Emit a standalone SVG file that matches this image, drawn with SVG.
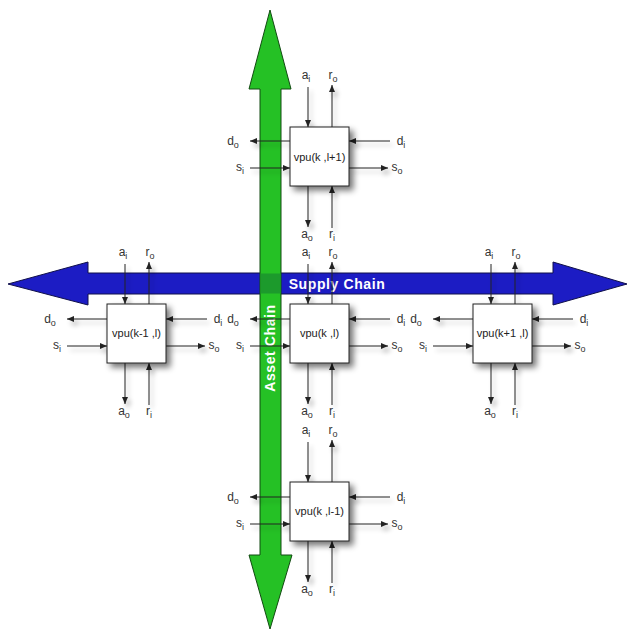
<svg xmlns="http://www.w3.org/2000/svg" width="628" height="631" viewBox="0 0 628 631">
<defs>
<style>
.box{fill:#ffffff;stroke:#222;stroke-width:1;}
.vl{font-family:"Liberation Sans",Arial,sans-serif;font-size:11px;fill:#222;text-anchor:middle;dominant-baseline:central;}
.lb{font-family:"Liberation Sans",Arial,sans-serif;font-size:12px;fill:#333;text-anchor:middle;}
.sub{font-size:9px;}
.cn{stroke:#222;stroke-width:1;fill:none;marker-end:url(#ah);}
.big{font-family:"Liberation Sans",Arial,sans-serif;font-size:14px;font-weight:bold;fill:#ffffff;letter-spacing:0.6px;text-anchor:middle;}
</style>
<marker id="ah" markerUnits="userSpaceOnUse" markerWidth="8" markerHeight="8" refX="7" refY="4" orient="auto">
<path d="M0,1 L7,4 L0,7 Z" fill="#222"/>
</marker>
<filter id="sh" x="-30%" y="-30%" width="170%" height="170%">
<feGaussianBlur in="SourceAlpha" stdDeviation="3"/>
<feOffset dx="4" dy="4" result="b"/>
<feComponentTransfer><feFuncA type="linear" slope="0.55"/></feComponentTransfer>
<feMerge><feMergeNode/><feMergeNode in="SourceGraphic"/></feMerge>
</filter>
<filter id="sh2" x="-10%" y="-10%" width="120%" height="120%">
<feGaussianBlur in="SourceAlpha" stdDeviation="2.5"/>
<feOffset dx="3" dy="4" result="b"/>
<feComponentTransfer><feFuncA type="linear" slope="0.3"/></feComponentTransfer>
<feMerge><feMergeNode/><feMergeNode in="SourceGraphic"/></feMerge>
</filter>
</defs>
<rect width="628" height="631" fill="#ffffff"/>

<g id="supply-chain">
<polygon points="8,284 88,262 88,273 553,273 553,262 627,284 553,305 553,294 88,294 88,305" fill="#1c1cc4" stroke="#10104a" stroke-width="1"/>
<text class="big" x="337" y="289">Supply Chain</text>
</g>
<g id="asset-chain">
<polygon points="270,10 291,89 281,89 281,555 292,555 270,629 249,555 260,555 260,89 249,89" fill="#25c125" stroke="#124a12" stroke-width="1"/>
<rect x="260.5" y="273.5" width="20" height="20" fill="#1c9a2c"/>
<text class="big" x="0" y="0" transform="translate(275,348) rotate(-90)">Asset Chain</text>
</g>

<g id="connectors" filter="url(#sh2)">
<!-- N1 (290,127) -->
<line class="cn" x1="308" y1="87" x2="308" y2="127"/>
<line class="cn" x1="332" y1="127" x2="332" y2="85"/>
<line class="cn" x1="308" y1="186" x2="308" y2="227"/>
<line class="cn" x1="332" y1="228" x2="332" y2="186"/>
<line class="cn" x1="290" y1="141" x2="250" y2="141"/>
<line class="cn" x1="390" y1="141" x2="349" y2="141"/>
<line class="cn" x1="250" y1="168" x2="290" y2="168"/>
<line class="cn" x1="349" y1="168" x2="388" y2="168"/>
<!-- N2 (107,304) -->
<line class="cn" x1="125" y1="264" x2="125" y2="304"/>
<line class="cn" x1="149" y1="304" x2="149" y2="262"/>
<line class="cn" x1="125" y1="363" x2="125" y2="404"/>
<line class="cn" x1="149" y1="405" x2="149" y2="363"/>
<line class="cn" x1="107" y1="319" x2="67" y2="319"/>
<line class="cn" x1="207" y1="319" x2="166" y2="319"/>
<line class="cn" x1="67" y1="346" x2="107" y2="346"/>
<line class="cn" x1="166" y1="346" x2="205" y2="346"/>
<!-- N3 (290,304) -->
<line class="cn" x1="308" y1="264" x2="308" y2="304"/>
<line class="cn" x1="332" y1="304" x2="332" y2="262"/>
<line class="cn" x1="308" y1="363" x2="308" y2="404"/>
<line class="cn" x1="332" y1="405" x2="332" y2="363"/>
<line class="cn" x1="290" y1="319" x2="250" y2="319"/>
<line class="cn" x1="390" y1="319" x2="349" y2="319"/>
<line class="cn" x1="250" y1="346" x2="290" y2="346"/>
<line class="cn" x1="349" y1="346" x2="388" y2="346"/>
<!-- N4 (473,304) -->
<line class="cn" x1="491" y1="264" x2="491" y2="304"/>
<line class="cn" x1="515" y1="304" x2="515" y2="262"/>
<line class="cn" x1="491" y1="363" x2="491" y2="404"/>
<line class="cn" x1="515" y1="405" x2="515" y2="363"/>
<line class="cn" x1="473" y1="319" x2="433" y2="319"/>
<line class="cn" x1="573" y1="319" x2="532" y2="319"/>
<line class="cn" x1="433" y1="346" x2="473" y2="346"/>
<line class="cn" x1="532" y1="346" x2="571" y2="346"/>
<!-- N5 (290,482) -->
<line class="cn" x1="308" y1="442" x2="308" y2="482"/>
<line class="cn" x1="332" y1="482" x2="332" y2="440"/>
<line class="cn" x1="308" y1="541" x2="308" y2="582"/>
<line class="cn" x1="332" y1="583" x2="332" y2="541"/>
<line class="cn" x1="290" y1="497" x2="250" y2="497"/>
<line class="cn" x1="390" y1="497" x2="349" y2="497"/>
<line class="cn" x1="250" y1="524" x2="290" y2="524"/>
<line class="cn" x1="349" y1="524" x2="388" y2="524"/>
</g>

<g id="vpu-k-l1">
<rect class="box" x="290" y="127" width="59" height="59" filter="url(#sh)"/>
<text class="vl" x="319.5" y="157">vpu(k ,l+1)</text>
<text class="lb" x="306" y="79">a<tspan class="sub" dy="3">i</tspan></text>
<text class="lb" x="333" y="79">r<tspan class="sub" dy="3">o</tspan></text>
<text class="lb" x="307" y="238">a<tspan class="sub" dy="3">o</tspan></text>
<text class="lb" x="332" y="238">r<tspan class="sub" dy="3">i</tspan></text>
<text class="lb" x="233" y="145">d<tspan class="sub" dy="3">o</tspan></text>
<text class="lb" x="401" y="145">d<tspan class="sub" dy="3">i</tspan></text>
<text class="lb" x="240" y="171">s<tspan class="sub" dy="3">i</tspan></text>
<text class="lb" x="397" y="171">s<tspan class="sub" dy="3">o</tspan></text>
</g>

<g id="vpu-km1-l">
<rect class="box" x="107" y="304" width="59" height="59" filter="url(#sh)"/>
<text class="vl" x="136.5" y="333">vpu(k-1 ,l)</text>
<text class="lb" x="123" y="256">a<tspan class="sub" dy="3">i</tspan></text>
<text class="lb" x="150" y="256">r<tspan class="sub" dy="3">o</tspan></text>
<text class="lb" x="124" y="415">a<tspan class="sub" dy="3">o</tspan></text>
<text class="lb" x="149" y="415">r<tspan class="sub" dy="3">i</tspan></text>
<text class="lb" x="50" y="323">d<tspan class="sub" dy="3">o</tspan></text>
<text class="lb" x="218" y="323">d<tspan class="sub" dy="3">i</tspan></text>
<text class="lb" x="57" y="349">s<tspan class="sub" dy="3">i</tspan></text>
<text class="lb" x="214" y="349">s<tspan class="sub" dy="3">o</tspan></text>
</g>

<g id="vpu-k-l">
<rect class="box" x="290" y="304" width="59" height="59" filter="url(#sh)"/>
<text class="vl" x="319.5" y="333">vpu(k ,l)</text>
<text class="lb" x="306" y="256">a<tspan class="sub" dy="3">i</tspan></text>
<text class="lb" x="333" y="256">r<tspan class="sub" dy="3">o</tspan></text>
<text class="lb" x="307" y="415">a<tspan class="sub" dy="3">o</tspan></text>
<text class="lb" x="332" y="415">r<tspan class="sub" dy="3">i</tspan></text>
<text class="lb" x="233" y="323">d<tspan class="sub" dy="3">o</tspan></text>
<text class="lb" x="401" y="323">d<tspan class="sub" dy="3">i</tspan></text>
<text class="lb" x="240" y="349">s<tspan class="sub" dy="3">i</tspan></text>
<text class="lb" x="397" y="349">s<tspan class="sub" dy="3">o</tspan></text>
</g>

<g id="vpu-kp1-l">
<rect class="box" x="473" y="304" width="59" height="59" filter="url(#sh)"/>
<text class="vl" x="502.5" y="333">vpu(k+1 ,l)</text>
<text class="lb" x="489" y="256">a<tspan class="sub" dy="3">i</tspan></text>
<text class="lb" x="516" y="256">r<tspan class="sub" dy="3">o</tspan></text>
<text class="lb" x="490" y="415">a<tspan class="sub" dy="3">o</tspan></text>
<text class="lb" x="515" y="415">r<tspan class="sub" dy="3">i</tspan></text>
<text class="lb" x="416" y="323">d<tspan class="sub" dy="3">o</tspan></text>
<text class="lb" x="584" y="323">d<tspan class="sub" dy="3">i</tspan></text>
<text class="lb" x="423" y="349">s<tspan class="sub" dy="3">i</tspan></text>
<text class="lb" x="580" y="349">s<tspan class="sub" dy="3">o</tspan></text>
</g>

<g id="vpu-k-lm1">
<rect class="box" x="290" y="482" width="59" height="59" filter="url(#sh)"/>
<text class="vl" x="319.5" y="511">vpu(k ,l-1)</text>
<text class="lb" x="306" y="434">a<tspan class="sub" dy="3">i</tspan></text>
<text class="lb" x="333" y="434">r<tspan class="sub" dy="3">o</tspan></text>
<text class="lb" x="307" y="593">a<tspan class="sub" dy="3">o</tspan></text>
<text class="lb" x="332" y="593">r<tspan class="sub" dy="3">i</tspan></text>
<text class="lb" x="233" y="501">d<tspan class="sub" dy="3">o</tspan></text>
<text class="lb" x="401" y="501">d<tspan class="sub" dy="3">i</tspan></text>
<text class="lb" x="240" y="527">s<tspan class="sub" dy="3">i</tspan></text>
<text class="lb" x="397" y="527">s<tspan class="sub" dy="3">o</tspan></text>
</g>
</svg>
